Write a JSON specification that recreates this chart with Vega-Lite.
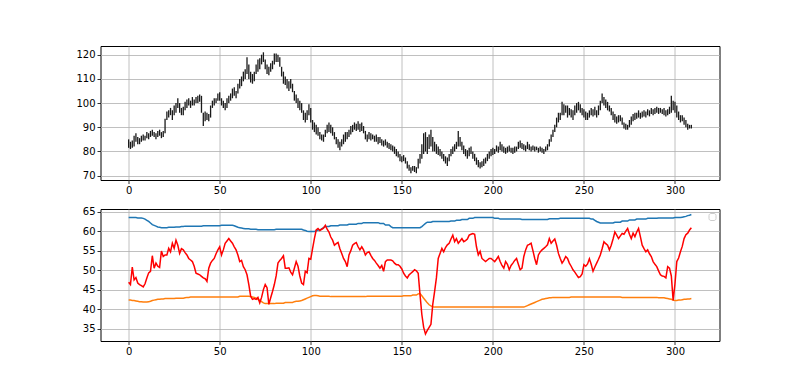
{
"$schema": "https://vega.github.io/schema/vega-lite/v6.json",
"background": "white",
"padding": {"left": 74.5, "top": 45, "right": 60, "bottom": 0},
"spacing": 10,
"resolve": {"legend": {"color": "independent"}, "scale": {"color": "independent"}},
"config": {
  "font": "DejaVu Sans",
  "view": {"stroke": "#000000", "strokeWidth": 1},
  "axis": {"domain": false, "grid": true, "gridColor": "#b0b0b0", "gridWidth": 0.8, "tickColor": "#000000", "tickSize": 3.5, "tickWidth": 0.8, "labelColor": "#000000", "labelFontSize": 10, "labelPadding": 2, "title": null, "labelFont": "DejaVu Sans", "labelOverlap": false}
},
"data": {"values": [
{"x":0,"low":81.5,"high":85,"rsi":46.9,"upper":63.5,"lower":42.3},
{"x":1,"low":81,"high":84,"rsi":46.3,"upper":63.5,"lower":42.3},
{"x":2,"low":81.5,"high":84.5,"rsi":50.8,"upper":63.5,"lower":42.2},
{"x":3,"low":82,"high":86.5,"rsi":47.5,"upper":63.5,"lower":42.2},
{"x":4,"low":84,"high":87.5,"rsi":48.1,"upper":63.5,"lower":42.1},
{"x":5,"low":83,"high":86,"rsi":46.7,"upper":63.4,"lower":42.0},
{"x":6,"low":83,"high":85.5,"rsi":46.3,"upper":63.4,"lower":41.9},
{"x":7,"low":84,"high":86.5,"rsi":46.0,"upper":63.4,"lower":41.9},
{"x":8,"low":84.5,"high":87,"rsi":45.7,"upper":63.3,"lower":41.8},
{"x":9,"low":84.5,"high":86.5,"rsi":46.5,"upper":63.1,"lower":41.8},
{"x":10,"low":85.5,"high":88,"rsi":48.0,"upper":62.8,"lower":41.8},
{"x":11,"low":85,"high":87.5,"rsi":49.3,"upper":62.5,"lower":41.9},
{"x":12,"low":86,"high":88.5,"rsi":49.7,"upper":62.1,"lower":42.0},
{"x":13,"low":86.5,"high":89,"rsi":53.7,"upper":61.7,"lower":42.2},
{"x":14,"low":86,"high":88,"rsi":50.5,"upper":61.5,"lower":42.3},
{"x":15,"low":85,"high":87.5,"rsi":51.8,"upper":61.3,"lower":42.4},
{"x":16,"low":86,"high":88.5,"rsi":51.0,"upper":61.1,"lower":42.5},
{"x":17,"low":86.5,"high":89,"rsi":50.7,"upper":61.0,"lower":42.5},
{"x":18,"low":85.5,"high":88,"rsi":54.9,"upper":60.9,"lower":42.6},
{"x":19,"low":86,"high":88.5,"rsi":53.5,"upper":60.9,"lower":42.6},
{"x":20,"low":87.5,"high":93.5,"rsi":53.9,"upper":60.9,"lower":42.7},
{"x":21,"low":93,"high":96.5,"rsi":53.9,"upper":60.9,"lower":42.7},
{"x":22,"low":94,"high":97,"rsi":55.6,"upper":61.0,"lower":42.7},
{"x":23,"low":95,"high":98,"rsi":54.7,"upper":61.0,"lower":42.7},
{"x":24,"low":93,"high":97,"rsi":56.9,"upper":61.0,"lower":42.7},
{"x":25,"low":95,"high":99,"rsi":55.6,"upper":61.0,"lower":42.7},
{"x":26,"low":96,"high":100,"rsi":57.7,"upper":61.1,"lower":42.8},
{"x":27,"low":98,"high":102,"rsi":56.4,"upper":61.1,"lower":42.8},
{"x":28,"low":96,"high":100,"rsi":54.3,"upper":61.1,"lower":42.8},
{"x":29,"low":95,"high":98,"rsi":55.5,"upper":61.2,"lower":42.8},
{"x":30,"low":95,"high":98.5,"rsi":55.2,"upper":61.2,"lower":42.8},
{"x":31,"low":97,"high":100.5,"rsi":54.5,"upper":61.3,"lower":42.9},
{"x":32,"low":98,"high":101.5,"rsi":53.9,"upper":61.3,"lower":43.0},
{"x":33,"low":99,"high":102,"rsi":53.0,"upper":61.3,"lower":43.0},
{"x":34,"low":98,"high":101,"rsi":52.6,"upper":61.3,"lower":43.1},
{"x":35,"low":99,"high":102.5,"rsi":52.2,"upper":61.3,"lower":43.1},
{"x":36,"low":99,"high":101.5,"rsi":51.0,"upper":61.3,"lower":43.1},
{"x":37,"low":100,"high":102.5,"rsi":49.2,"upper":61.3,"lower":43.1},
{"x":38,"low":100,"high":103,"rsi":49.0,"upper":61.3,"lower":43.1},
{"x":39,"low":100.5,"high":103.5,"rsi":48.8,"upper":61.3,"lower":43.1},
{"x":40,"low":96,"high":103,"rsi":48.4,"upper":61.3,"lower":43.1},
{"x":41,"low":90.5,"high":96,"rsi":48.0,"upper":61.4,"lower":43.1},
{"x":42,"low":92.5,"high":96.5,"rsi":47.8,"upper":61.4,"lower":43.1},
{"x":43,"low":93,"high":96,"rsi":47.1,"upper":61.4,"lower":43.1},
{"x":44,"low":92.5,"high":95.5,"rsi":50.5,"upper":61.4,"lower":43.1},
{"x":45,"low":94,"high":99,"rsi":51.8,"upper":61.4,"lower":43.1},
{"x":46,"low":98,"high":101,"rsi":52.5,"upper":61.4,"lower":43.1},
{"x":47,"low":99,"high":102,"rsi":53.0,"upper":61.4,"lower":43.1},
{"x":48,"low":100,"high":102,"rsi":54.2,"upper":61.4,"lower":43.1},
{"x":49,"low":101,"high":104,"rsi":55.2,"upper":61.4,"lower":43.1},
{"x":50,"low":101,"high":104.5,"rsi":56.0,"upper":61.4,"lower":43.1},
{"x":51,"low":99,"high":102,"rsi":53.9,"upper":61.5,"lower":43.1},
{"x":52,"low":98,"high":101,"rsi":55.2,"upper":61.5,"lower":43.1},
{"x":53,"low":97,"high":100,"rsi":56.9,"upper":61.5,"lower":43.1},
{"x":54,"low":98,"high":102,"rsi":57.5,"upper":61.5,"lower":43.1},
{"x":55,"low":100,"high":103,"rsi":58.1,"upper":61.5,"lower":43.1},
{"x":56,"low":101,"high":104,"rsi":57.5,"upper":61.5,"lower":43.1},
{"x":57,"low":102,"high":106,"rsi":56.9,"upper":61.5,"lower":43.1},
{"x":58,"low":103,"high":106.5,"rsi":56.0,"upper":61.4,"lower":43.1},
{"x":59,"low":102,"high":105,"rsi":55.2,"upper":61.2,"lower":43.1},
{"x":60,"low":104,"high":108,"rsi":53.9,"upper":61.0,"lower":43.1},
{"x":61,"low":106,"high":110,"rsi":52.2,"upper":60.9,"lower":43.3},
{"x":62,"low":107,"high":111,"rsi":52.5,"upper":60.8,"lower":43.3},
{"x":63,"low":109,"high":113,"rsi":50.9,"upper":60.7,"lower":43.3},
{"x":64,"low":110,"high":114,"rsi":50.1,"upper":60.6,"lower":43.3},
{"x":65,"low":112,"high":119,"rsi":48.8,"upper":60.6,"lower":43.3},
{"x":66,"low":110,"high":116,"rsi":46.3,"upper":60.6,"lower":43.3},
{"x":67,"low":108.5,"high":113,"rsi":43.3,"upper":60.5,"lower":43.2},
{"x":68,"low":108,"high":112,"rsi":42.5,"upper":60.5,"lower":43.1},
{"x":69,"low":109,"high":113,"rsi":42.7,"upper":60.5,"lower":43.0},
{"x":70,"low":112,"high":116,"rsi":42.5,"upper":60.5,"lower":42.8},
{"x":71,"low":113,"high":118,"rsi":43.0,"upper":60.4,"lower":42.5},
{"x":72,"low":114,"high":118.5,"rsi":41.6,"upper":60.4,"lower":42.2},
{"x":73,"low":116,"high":120,"rsi":43.0,"upper":60.4,"lower":41.9},
{"x":74,"low":117,"high":121,"rsi":45.0,"upper":60.4,"lower":41.6},
{"x":75,"low":114,"high":118,"rsi":46.3,"upper":60.4,"lower":41.4},
{"x":76,"low":112,"high":116,"rsi":45.5,"upper":60.4,"lower":41.4},
{"x":77,"low":111.5,"high":115,"rsi":41.2,"upper":60.4,"lower":41.4},
{"x":78,"low":113,"high":116.5,"rsi":42.9,"upper":60.4,"lower":41.4},
{"x":79,"low":114,"high":117.5,"rsi":44.5,"upper":60.4,"lower":41.4},
{"x":80,"low":116,"high":120.5,"rsi":46.3,"upper":60.4,"lower":41.4},
{"x":81,"low":117,"high":120.5,"rsi":48.5,"upper":60.5,"lower":41.5},
{"x":82,"low":117,"high":120,"rsi":51.8,"upper":60.5,"lower":41.5},
{"x":83,"low":115,"high":119,"rsi":52.5,"upper":60.5,"lower":41.5},
{"x":84,"low":111,"high":115,"rsi":53.0,"upper":60.5,"lower":41.5},
{"x":85,"low":108,"high":113,"rsi":53.7,"upper":60.5,"lower":41.5},
{"x":86,"low":107.5,"high":111,"rsi":50.5,"upper":60.5,"lower":41.7},
{"x":87,"low":106,"high":110,"rsi":50.5,"upper":60.5,"lower":41.7},
{"x":88,"low":105,"high":109,"rsi":50.6,"upper":60.5,"lower":41.7},
{"x":89,"low":106,"high":110,"rsi":49.5,"upper":60.5,"lower":41.7},
{"x":90,"low":104.5,"high":108,"rsi":48.8,"upper":60.5,"lower":41.7},
{"x":91,"low":101,"high":105,"rsi":50.5,"upper":60.5,"lower":41.9},
{"x":92,"low":100,"high":103.5,"rsi":52.2,"upper":60.5,"lower":42.0},
{"x":93,"low":98,"high":102,"rsi":51.0,"upper":60.5,"lower":42.0},
{"x":94,"low":97,"high":101,"rsi":48.5,"upper":60.5,"lower":42.1},
{"x":95,"low":96,"high":100,"rsi":46.7,"upper":60.5,"lower":42.2},
{"x":96,"low":93,"high":97,"rsi":46.3,"upper":60.3,"lower":42.4},
{"x":97,"low":92,"high":96,"rsi":49.7,"upper":60.2,"lower":42.6},
{"x":98,"low":93,"high":97,"rsi":49.3,"upper":60.0,"lower":42.8},
{"x":99,"low":95,"high":99.5,"rsi":53.0,"upper":59.9,"lower":43.0},
{"x":100,"low":92,"high":98,"rsi":52.8,"upper":59.9,"lower":43.2},
{"x":101,"low":89,"high":93,"rsi":55.5,"upper":59.9,"lower":43.4},
{"x":102,"low":88,"high":92,"rsi":58.1,"upper":59.9,"lower":43.5},
{"x":103,"low":87,"high":91,"rsi":60.3,"upper":60.1,"lower":43.5},
{"x":104,"low":86.5,"high":90,"rsi":60.7,"upper":60.3,"lower":43.4},
{"x":105,"low":85,"high":88,"rsi":60.2,"upper":60.3,"lower":43.3},
{"x":106,"low":84.5,"high":87,"rsi":60.5,"upper":60.6,"lower":43.3},
{"x":107,"low":84,"high":87,"rsi":60.8,"upper":60.9,"lower":43.3},
{"x":108,"low":86,"high":89,"rsi":61.5,"upper":61.2,"lower":43.3},
{"x":109,"low":87.5,"high":91,"rsi":60.5,"upper":61.2,"lower":43.3},
{"x":110,"low":88,"high":92,"rsi":59.8,"upper":61.2,"lower":43.3},
{"x":111,"low":87.5,"high":91,"rsi":58.5,"upper":61.4,"lower":43.2},
{"x":112,"low":86.5,"high":90,"rsi":57.7,"upper":61.4,"lower":43.2},
{"x":113,"low":85,"high":88,"rsi":56.4,"upper":61.4,"lower":43.2},
{"x":114,"low":83,"high":86,"rsi":56.8,"upper":61.4,"lower":43.2},
{"x":115,"low":81.5,"high":85,"rsi":57.1,"upper":61.4,"lower":43.2},
{"x":116,"low":80.5,"high":84,"rsi":55.5,"upper":61.6,"lower":43.2},
{"x":117,"low":82,"high":85,"rsi":54.3,"upper":61.6,"lower":43.2},
{"x":118,"low":83,"high":87,"rsi":53.0,"upper":61.6,"lower":43.2},
{"x":119,"low":84,"high":88,"rsi":52.2,"upper":61.6,"lower":43.2},
{"x":120,"low":85,"high":88,"rsi":50.9,"upper":61.6,"lower":43.2},
{"x":121,"low":86,"high":89,"rsi":53.9,"upper":61.8,"lower":43.2},
{"x":122,"low":87,"high":90.5,"rsi":55.0,"upper":61.8,"lower":43.2},
{"x":123,"low":88,"high":91,"rsi":56.4,"upper":61.8,"lower":43.2},
{"x":124,"low":89,"high":92,"rsi":56.8,"upper":61.8,"lower":43.2},
{"x":125,"low":88.5,"high":91.5,"rsi":57.1,"upper":61.8,"lower":43.2},
{"x":126,"low":89,"high":92.5,"rsi":56.0,"upper":62.0,"lower":43.2},
{"x":127,"low":88,"high":91.5,"rsi":55.2,"upper":62.0,"lower":43.2},
{"x":128,"low":88.5,"high":92,"rsi":56.0,"upper":62.0,"lower":43.2},
{"x":129,"low":87.5,"high":90.5,"rsi":55.2,"upper":62.2,"lower":43.2},
{"x":130,"low":85,"high":88.5,"rsi":53.9,"upper":62.2,"lower":43.2},
{"x":131,"low":84,"high":87,"rsi":54.5,"upper":62.2,"lower":43.3},
{"x":132,"low":85,"high":88,"rsi":54.7,"upper":62.2,"lower":43.3},
{"x":133,"low":84.5,"high":87.5,"rsi":53.8,"upper":62.2,"lower":43.3},
{"x":134,"low":85,"high":87,"rsi":53.0,"upper":62.2,"lower":43.3},
{"x":135,"low":84,"high":86.5,"rsi":52.5,"upper":62.2,"lower":43.3},
{"x":136,"low":84,"high":87,"rsi":51.8,"upper":62.2,"lower":43.3},
{"x":137,"low":83,"high":86,"rsi":51.2,"upper":62.2,"lower":43.3},
{"x":138,"low":83.5,"high":86,"rsi":50.5,"upper":62.0,"lower":43.3},
{"x":139,"low":82.5,"high":85,"rsi":51.2,"upper":62.0,"lower":43.3},
{"x":140,"low":82,"high":84.5,"rsi":49.7,"upper":62.0,"lower":43.3},
{"x":141,"low":82.5,"high":85,"rsi":52.2,"upper":61.6,"lower":43.3},
{"x":142,"low":81.5,"high":84,"rsi":52.6,"upper":61.6,"lower":43.3},
{"x":143,"low":81,"high":83.5,"rsi":52.6,"upper":61.6,"lower":43.3},
{"x":144,"low":80.5,"high":83,"rsi":52.6,"upper":61.2,"lower":43.3},
{"x":145,"low":80,"high":82.5,"rsi":52.4,"upper":60.9,"lower":43.3},
{"x":146,"low":79,"high":82,"rsi":51.8,"upper":60.9,"lower":43.3},
{"x":147,"low":78,"high":81,"rsi":51.4,"upper":60.9,"lower":43.3},
{"x":148,"low":77.5,"high":80,"rsi":51.4,"upper":60.9,"lower":43.3},
{"x":149,"low":76,"high":79,"rsi":51.0,"upper":60.9,"lower":43.3},
{"x":150,"low":75.5,"high":78,"rsi":50.3,"upper":60.9,"lower":43.3},
{"x":151,"low":76,"high":78.5,"rsi":49.2,"upper":60.9,"lower":43.4},
{"x":152,"low":75,"high":77.5,"rsi":48.5,"upper":60.9,"lower":43.4},
{"x":153,"low":73,"high":76,"rsi":48.0,"upper":60.9,"lower":43.4},
{"x":154,"low":72,"high":74.5,"rsi":48.8,"upper":60.9,"lower":43.4},
{"x":155,"low":71,"high":73.5,"rsi":49.2,"upper":60.9,"lower":43.4},
{"x":156,"low":72,"high":74,"rsi":49.6,"upper":60.9,"lower":43.6},
{"x":157,"low":71.5,"high":74,"rsi":50.1,"upper":60.9,"lower":43.6},
{"x":158,"low":71,"high":73.5,"rsi":49.8,"upper":60.9,"lower":43.6},
{"x":159,"low":73,"high":77,"rsi":49.2,"upper":60.9,"lower":43.9},
{"x":160,"low":75,"high":79,"rsi":43.7,"upper":60.9,"lower":44.0},
{"x":161,"low":77,"high":83,"rsi":38.6,"upper":61.2,"lower":43.4},
{"x":162,"low":79,"high":87.5,"rsi":35.3,"upper":61.6,"lower":42.8},
{"x":163,"low":80,"high":88,"rsi":33.6,"upper":62.0,"lower":42.2},
{"x":164,"low":79,"high":86,"rsi":34.5,"upper":62.3,"lower":41.6},
{"x":165,"low":81,"high":87,"rsi":35.3,"upper":62.3,"lower":41.1},
{"x":166,"low":82,"high":89,"rsi":36.1,"upper":62.3,"lower":40.8},
{"x":167,"low":80,"high":86,"rsi":41.2,"upper":62.5,"lower":40.6},
{"x":168,"low":80,"high":84,"rsi":44.5,"upper":62.5,"lower":40.5},
{"x":169,"low":79,"high":83,"rsi":48.0,"upper":62.5,"lower":40.5},
{"x":170,"low":78.5,"high":82,"rsi":53.0,"upper":62.5,"lower":40.5},
{"x":171,"low":78,"high":81,"rsi":54.3,"upper":62.5,"lower":40.5},
{"x":172,"low":77,"high":80,"rsi":55.6,"upper":62.5,"lower":40.5},
{"x":173,"low":76,"high":79,"rsi":54.7,"upper":62.5,"lower":40.5},
{"x":174,"low":75,"high":78,"rsi":55.8,"upper":62.5,"lower":40.5},
{"x":175,"low":74,"high":77.5,"rsi":56.5,"upper":62.5,"lower":40.5},
{"x":176,"low":76,"high":79,"rsi":56.9,"upper":62.5,"lower":40.5},
{"x":177,"low":78,"high":81,"rsi":58.0,"upper":62.6,"lower":40.5},
{"x":178,"low":79,"high":82,"rsi":59.0,"upper":62.6,"lower":40.5},
{"x":179,"low":80,"high":83,"rsi":57.3,"upper":62.6,"lower":40.5},
{"x":180,"low":81,"high":84,"rsi":58.1,"upper":62.8,"lower":40.5},
{"x":181,"low":82,"high":88.5,"rsi":56.9,"upper":62.8,"lower":40.5},
{"x":182,"low":82,"high":86,"rsi":57.5,"upper":62.8,"lower":40.5},
{"x":183,"low":80.5,"high":84,"rsi":58.1,"upper":63.0,"lower":40.5},
{"x":184,"low":79,"high":82.5,"rsi":57.3,"upper":63.0,"lower":40.5},
{"x":185,"low":78,"high":81,"rsi":57.6,"upper":63.0,"lower":40.5},
{"x":186,"low":77,"high":80.5,"rsi":58.0,"upper":63.0,"lower":40.5},
{"x":187,"low":78,"high":81.5,"rsi":59.0,"upper":63.3,"lower":40.5},
{"x":188,"low":79,"high":82,"rsi":59.2,"upper":63.3,"lower":40.5},
{"x":189,"low":77,"high":80,"rsi":59.4,"upper":63.3,"lower":40.5},
{"x":190,"low":76,"high":79,"rsi":59.2,"upper":63.5,"lower":40.5},
{"x":191,"low":74.5,"high":77.5,"rsi":56.0,"upper":63.5,"lower":40.5},
{"x":192,"low":73.5,"high":76.5,"rsi":53.9,"upper":63.5,"lower":40.5},
{"x":193,"low":73,"high":75.5,"rsi":54.8,"upper":63.5,"lower":40.5},
{"x":194,"low":73.5,"high":76,"rsi":53.0,"upper":63.5,"lower":40.5},
{"x":195,"low":74,"high":77,"rsi":52.6,"upper":63.5,"lower":40.5},
{"x":196,"low":75,"high":77.5,"rsi":52.2,"upper":63.5,"lower":40.5},
{"x":197,"low":76,"high":79,"rsi":52.6,"upper":63.5,"lower":40.5},
{"x":198,"low":77,"high":80,"rsi":53.0,"upper":63.5,"lower":40.5},
{"x":199,"low":78,"high":81,"rsi":53.0,"upper":63.5,"lower":40.5},
{"x":200,"low":78.5,"high":81.5,"rsi":52.6,"upper":63.5,"lower":40.5},
{"x":201,"low":79,"high":81,"rsi":52.2,"upper":63.3,"lower":40.5},
{"x":202,"low":80,"high":82.5,"rsi":52.8,"upper":63.3,"lower":40.5},
{"x":203,"low":79.5,"high":82,"rsi":53.5,"upper":63.3,"lower":40.5},
{"x":204,"low":80.5,"high":84,"rsi":52.2,"upper":63.1,"lower":40.5},
{"x":205,"low":80,"high":83,"rsi":51.2,"upper":63.1,"lower":40.5},
{"x":206,"low":79.5,"high":82,"rsi":50.5,"upper":63.1,"lower":40.5},
{"x":207,"low":79,"high":81.5,"rsi":52.2,"upper":63.1,"lower":40.5},
{"x":208,"low":79.5,"high":82,"rsi":51.5,"upper":63.1,"lower":40.5},
{"x":209,"low":80,"high":82.5,"rsi":50.1,"upper":63.1,"lower":40.5},
{"x":210,"low":79.5,"high":81.5,"rsi":51.2,"upper":63.1,"lower":40.5},
{"x":211,"low":79,"high":81.5,"rsi":51.8,"upper":63.1,"lower":40.5},
{"x":212,"low":79.5,"high":82,"rsi":52.5,"upper":63.1,"lower":40.5},
{"x":213,"low":80,"high":82,"rsi":53.0,"upper":63.1,"lower":40.5},
{"x":214,"low":81,"high":84,"rsi":51.5,"upper":63.1,"lower":40.5},
{"x":215,"low":81.5,"high":84.5,"rsi":50.1,"upper":63.1,"lower":40.5},
{"x":216,"low":81,"high":83.5,"rsi":50.5,"upper":63.0,"lower":40.5},
{"x":217,"low":80.5,"high":83,"rsi":53.5,"upper":63.0,"lower":40.5},
{"x":218,"low":80,"high":82.5,"rsi":55.2,"upper":63.0,"lower":40.7},
{"x":219,"low":81,"high":84,"rsi":56.4,"upper":63.0,"lower":40.9},
{"x":220,"low":80.5,"high":83,"rsi":56.6,"upper":63.0,"lower":41.1},
{"x":221,"low":80,"high":82,"rsi":56.9,"upper":63.0,"lower":41.3},
{"x":222,"low":80.5,"high":82.5,"rsi":55.0,"upper":63.0,"lower":41.5},
{"x":223,"low":80,"high":82,"rsi":53.0,"upper":63.0,"lower":41.7},
{"x":224,"low":80.5,"high":82,"rsi":51.4,"upper":63.0,"lower":41.9},
{"x":225,"low":79.5,"high":81.5,"rsi":53.9,"upper":63.0,"lower":42.1},
{"x":226,"low":80,"high":82,"rsi":54.7,"upper":63.0,"lower":42.3},
{"x":227,"low":79.5,"high":81.5,"rsi":55.2,"upper":63.0,"lower":42.5},
{"x":228,"low":79,"high":81,"rsi":55.6,"upper":63.0,"lower":42.6},
{"x":229,"low":80,"high":82,"rsi":56.0,"upper":63.0,"lower":42.7},
{"x":230,"low":80.5,"high":83,"rsi":56.5,"upper":63.0,"lower":42.8},
{"x":231,"low":82,"high":85,"rsi":58.1,"upper":63.2,"lower":42.9},
{"x":232,"low":84,"high":87,"rsi":56.9,"upper":63.2,"lower":42.9},
{"x":233,"low":86,"high":89,"rsi":57.5,"upper":63.2,"lower":43.0},
{"x":234,"low":88,"high":91,"rsi":58.0,"upper":63.2,"lower":43.0},
{"x":235,"low":90,"high":94,"rsi":56.4,"upper":63.2,"lower":43.0},
{"x":236,"low":92,"high":96,"rsi":54.3,"upper":63.2,"lower":43.0},
{"x":237,"low":93,"high":96,"rsi":53.0,"upper":63.3,"lower":43.0},
{"x":238,"low":95,"high":100.5,"rsi":51.8,"upper":63.3,"lower":43.0},
{"x":239,"low":95,"high":99.5,"rsi":52.5,"upper":63.3,"lower":43.0},
{"x":240,"low":96,"high":99,"rsi":53.5,"upper":63.3,"lower":43.0},
{"x":241,"low":94,"high":99,"rsi":53.0,"upper":63.3,"lower":43.0},
{"x":242,"low":95,"high":98,"rsi":51.8,"upper":63.3,"lower":43.0},
{"x":243,"low":94,"high":97.5,"rsi":51.0,"upper":63.3,"lower":43.1},
{"x":244,"low":93,"high":97,"rsi":50.1,"upper":63.3,"lower":43.1},
{"x":245,"low":95,"high":99,"rsi":49.5,"upper":63.3,"lower":43.1},
{"x":246,"low":96,"high":100,"rsi":48.8,"upper":63.3,"lower":43.1},
{"x":247,"low":97,"high":100.5,"rsi":48.1,"upper":63.3,"lower":43.1},
{"x":248,"low":96,"high":99.5,"rsi":48.3,"upper":63.3,"lower":43.1},
{"x":249,"low":95,"high":98,"rsi":49.0,"upper":63.3,"lower":43.1},
{"x":250,"low":94,"high":97.5,"rsi":51.4,"upper":63.3,"lower":43.1},
{"x":251,"low":93,"high":96.5,"rsi":51.0,"upper":63.3,"lower":43.1},
{"x":252,"low":93,"high":96,"rsi":51.6,"upper":63.3,"lower":43.1},
{"x":253,"low":94,"high":97,"rsi":52.9,"upper":63.3,"lower":43.1},
{"x":254,"low":95,"high":98,"rsi":51.5,"upper":63.1,"lower":43.1},
{"x":255,"low":94.5,"high":97.5,"rsi":49.7,"upper":63.1,"lower":43.1},
{"x":256,"low":95,"high":98.5,"rsi":50.8,"upper":62.8,"lower":43.1},
{"x":257,"low":94,"high":97,"rsi":51.8,"upper":62.5,"lower":43.1},
{"x":258,"low":95,"high":99,"rsi":52.8,"upper":62.3,"lower":43.1},
{"x":259,"low":97,"high":101,"rsi":53.9,"upper":62.1,"lower":43.1},
{"x":260,"low":100,"high":104,"rsi":55.5,"upper":62.1,"lower":43.1},
{"x":261,"low":99,"high":102.5,"rsi":57.3,"upper":62.1,"lower":43.1},
{"x":262,"low":98,"high":101.5,"rsi":56.8,"upper":62.1,"lower":43.1},
{"x":263,"low":97,"high":100.5,"rsi":56.4,"upper":62.1,"lower":43.1},
{"x":264,"low":96.5,"high":99,"rsi":55.2,"upper":62.1,"lower":43.1},
{"x":265,"low":95,"high":98,"rsi":56.4,"upper":62.1,"lower":43.1},
{"x":266,"low":93,"high":96.5,"rsi":58.0,"upper":62.1,"lower":43.1},
{"x":267,"low":92,"high":95.5,"rsi":59.8,"upper":62.3,"lower":43.1},
{"x":268,"low":91.5,"high":94.5,"rsi":59.0,"upper":62.3,"lower":43.1},
{"x":269,"low":92,"high":95,"rsi":58.1,"upper":62.3,"lower":43.1},
{"x":270,"low":92.5,"high":95,"rsi":58.8,"upper":62.3,"lower":43.1},
{"x":271,"low":91,"high":94,"rsi":59.4,"upper":62.6,"lower":43.0},
{"x":272,"low":89.5,"high":92,"rsi":59.2,"upper":62.6,"lower":43.0},
{"x":273,"low":89,"high":91.5,"rsi":60.0,"upper":62.6,"lower":43.0},
{"x":274,"low":89,"high":91,"rsi":60.7,"upper":62.6,"lower":43.0},
{"x":275,"low":90,"high":93,"rsi":59.2,"upper":62.9,"lower":43.0},
{"x":276,"low":91,"high":94.5,"rsi":58.1,"upper":62.9,"lower":43.0},
{"x":277,"low":92.5,"high":95.5,"rsi":59.5,"upper":62.9,"lower":43.0},
{"x":278,"low":93,"high":96,"rsi":58.6,"upper":62.9,"lower":43.0},
{"x":279,"low":93.5,"high":96,"rsi":59.8,"upper":63.1,"lower":43.0},
{"x":280,"low":94,"high":97,"rsi":60.7,"upper":63.1,"lower":43.0},
{"x":281,"low":93.5,"high":96,"rsi":58.6,"upper":63.1,"lower":43.0},
{"x":282,"low":94,"high":96.5,"rsi":56.4,"upper":63.1,"lower":43.0},
{"x":283,"low":94.5,"high":97,"rsi":55.5,"upper":63.1,"lower":43.0},
{"x":284,"low":94,"high":96.5,"rsi":54.7,"upper":63.1,"lower":43.0},
{"x":285,"low":95,"high":97.5,"rsi":55.2,"upper":63.3,"lower":43.0},
{"x":286,"low":94.5,"high":97,"rsi":54.2,"upper":63.3,"lower":43.0},
{"x":287,"low":95.5,"high":98,"rsi":53.5,"upper":63.3,"lower":43.0},
{"x":288,"low":95,"high":97.5,"rsi":52.2,"upper":63.3,"lower":43.0},
{"x":289,"low":95.5,"high":98,"rsi":51.5,"upper":63.3,"lower":43.0},
{"x":290,"low":96,"high":98.5,"rsi":50.9,"upper":63.3,"lower":43.0},
{"x":291,"low":95.5,"high":98,"rsi":49.8,"upper":63.4,"lower":42.9},
{"x":292,"low":96,"high":98,"rsi":48.8,"upper":63.4,"lower":42.9},
{"x":293,"low":95.5,"high":97.5,"rsi":48.5,"upper":63.4,"lower":42.9},
{"x":294,"low":95,"high":98,"rsi":48.4,"upper":63.4,"lower":42.9},
{"x":295,"low":94.5,"high":97,"rsi":48.0,"upper":63.4,"lower":42.8},
{"x":296,"low":95,"high":97.5,"rsi":50.9,"upper":63.4,"lower":42.7},
{"x":297,"low":95.5,"high":98.5,"rsi":50.5,"upper":63.4,"lower":42.6},
{"x":298,"low":96,"high":103,"rsi":48.5,"upper":63.4,"lower":42.5},
{"x":299,"low":97,"high":101,"rsi":42.2,"upper":63.4,"lower":42.3},
{"x":300,"low":96,"high":100.5,"rsi":46.5,"upper":63.5,"lower":42.2},
{"x":301,"low":94,"high":99,"rsi":52.2,"upper":63.5,"lower":42.2},
{"x":302,"low":93,"high":96.5,"rsi":53.1,"upper":63.5,"lower":42.3},
{"x":303,"low":92,"high":95,"rsi":54.7,"upper":63.5,"lower":42.3},
{"x":304,"low":92.5,"high":95,"rsi":56.1,"upper":63.6,"lower":42.4},
{"x":305,"low":91,"high":94,"rsi":58.1,"upper":63.7,"lower":42.5},
{"x":306,"low":90,"high":93,"rsi":59.1,"upper":63.8,"lower":42.5},
{"x":307,"low":89,"high":91.5,"rsi":59.5,"upper":64.0,"lower":42.6},
{"x":308,"low":89.5,"high":91,"rsi":60.3,"upper":64.1,"lower":42.6},
{"x":309,"low":89.5,"high":91,"rsi":60.9,"upper":64.3,"lower":42.7}
]},
"vconcat": [
  {
    "width": 619, "height": 134,
    "mark": {"type": "rule", "color": "#1a1a1a", "strokeWidth": 1.3},
    "encoding": {
      "x": {"field": "x", "type": "quantitative", "scale": {"domain": [-15.45, 324.45], "nice": false, "zero": false}, "axis": {"values": [0, 50, 100, 150, 200, 250, 300]}},
      "y": {"field": "low", "type": "quantitative", "scale": {"domain": [68.2, 123.6], "nice": false, "zero": false}, "axis": {"values": [70, 80, 90, 100, 110, 120], "labelOverlap": false}},
      "y2": {"field": "high"}
    }
  },
  {
    "width": 619, "height": 132,
    "encoding": {
      "x": {"field": "x", "type": "quantitative", "scale": {"domain": [-15.45, 324.45], "nice": false, "zero": false}, "axis": {"values": [0, 50, 100, 150, 200, 250, 300]}},
      "y": {"type": "quantitative", "scale": {"domain": [31.8, 65.7], "nice": false, "zero": false}, "axis": {"values": [35, 40, 45, 50, 55, 60, 65], "labelOverlap": false, "labelFlush": false}}
    },
    "layer": [
      {"mark": {"type": "line", "color": "#1f77b4", "strokeWidth": 1.5},
       "encoding": {"y": {"field": "upper", "type": "quantitative", "scale": {"domain": [31.8, 65.7], "nice": false, "zero": false}, "axis": {"values": [35, 40, 45, 50, 55, 60, 65], "labelOverlap": false, "labelFlush": false}}}},
      {"mark": {"type": "line", "color": "#ff7f0e", "strokeWidth": 1.5},
       "encoding": {"y": {"field": "lower", "type": "quantitative", "axis": {"values": [35, 40, 45, 50, 55, 60, 65], "labelOverlap": false, "labelFlush": false}}}},
      {"mark": {"type": "line", "strokeWidth": 1.5},
       "encoding": {
         "y": {"field": "rsi", "type": "quantitative", "axis": {"values": [35, 40, 45, 50, 55, 60, 65], "labelOverlap": false, "labelFlush": false}},
         "color": {"datum": " ", "scale": {"range": ["#ff0000"]}, "legend": {"orient": "top-right", "offset": 4, "title": null, "symbolSize": 0, "symbolStrokeWidth": 0, "labelFontSize": 1, "labelLimit": 1, "padding": 3, "strokeColor": "#cccccc", "fillColor": "#ffffff", "cornerRadius": 2, "rowPadding": 0, "labelOffset": 0}}
       }}
    ]
  }
]
}
